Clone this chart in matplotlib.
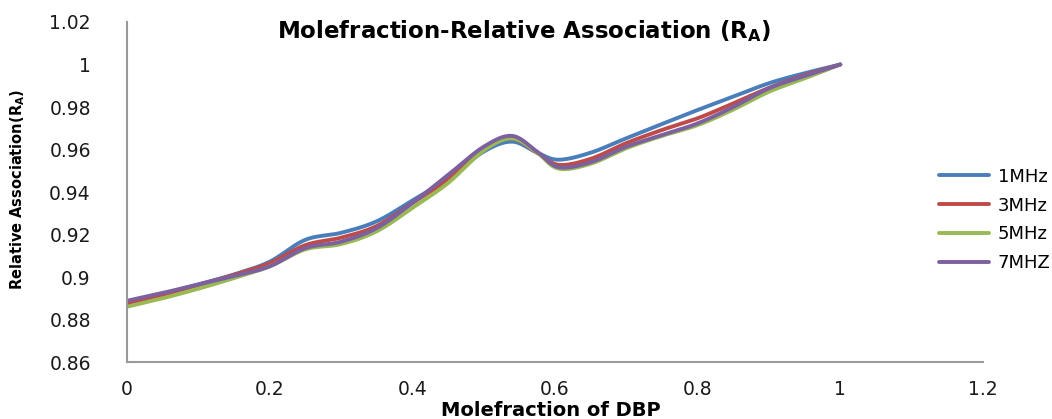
import numpy as np
import matplotlib
matplotlib.use("Agg")
import matplotlib.pyplot as plt

# -----------------------------
# DATA
# -----------------------------
MOLEFRACTION = [0.0, 0.05, 0.10, 0.15, 0.20, 0.25, 0.30, 0.35, 0.40, 0.45,
                0.50, 0.54, 0.575, 0.605, 0.65, 0.70, 0.75, 0.80, 0.85, 0.90,
                0.95, 1.0]

RA_1MHZ = [0.8875, 0.8920, 0.8965, 0.9012, 0.9072, 0.9175, 0.9208, 0.9262,
           0.9360, 0.9462, 0.9590, 0.9637, 0.9585, 0.9552, 0.9585, 0.9653,
           0.9720, 0.9786, 0.9849, 0.9912, 0.9959, 1.0]
RA_3MHZ = [0.8870, 0.8915, 0.8962, 0.9010, 0.9065, 0.9150, 0.9185, 0.9240,
           0.9348, 0.9458, 0.9600, 0.9652, 0.9585, 0.9528, 0.9556, 0.9630,
           0.9692, 0.9747, 0.9817, 0.9890, 0.9950, 1.0]
RA_5MHZ = [0.8860, 0.8900, 0.8945, 0.8995, 0.9050, 0.9130, 0.9155, 0.9215,
           0.9325, 0.9442, 0.9595, 0.9652, 0.9585, 0.9510, 0.9533, 0.9606,
           0.9664, 0.9715, 0.9788, 0.9872, 0.9935, 1.0]
RA_7MHZ = [0.8888, 0.8925, 0.8965, 0.9005, 0.9050, 0.9136, 0.9166, 0.9230,
           0.9348, 0.9480, 0.9613, 0.9664, 0.9590, 0.9517, 0.9540, 0.9613,
           0.9668, 0.9723, 0.9800, 0.9888, 0.9946, 1.0]

SERIES_NAMES = ["1MHz", "3MHz", "5MHz", "7MHZ"]
COLORS = ["#4A7EBB", "#BE4B48", "#98B954", "#7D60A0"]

X_TICKS = [0, 0.2, 0.4, 0.6, 0.8, 1, 1.2]
X_TICK_LABELS = ["0", "0.2", "0.4", "0.6", "0.8", "1", "1.2"]
Y_TICKS = [0.86, 0.88, 0.9, 0.92, 0.94, 0.96, 0.98, 1.0, 1.02]
Y_TICK_LABELS = ["0.86", "0.88", "0.9", "0.92", "0.94", "0.96", "0.98", "1", "1.02"]


# -----------------------------
# SMOOTH LINE (like Excel's smoothed line)
# -----------------------------
def smooth_line(x, y, steps=20):
    x = np.asarray(x, float)
    y = np.asarray(y, float)
    px = np.concatenate([[2 * x[0] - x[1]], x, [2 * x[-1] - x[-2]]])
    py = np.concatenate([[2 * y[0] - y[1]], y, [2 * y[-1] - y[-2]]])
    out_x, out_y = [], []
    t = np.linspace(0, 1, steps, endpoint=False)
    for i in range(1, len(px) - 2):
        p0x, p1x, p2x, p3x = px[i - 1:i + 3]
        p0y, p1y, p2y, p3y = py[i - 1:i + 3]
        t2, t3 = t * t, t * t * t
        out_x.append(0.5 * (2 * p1x + (-p0x + p2x) * t + (2 * p0x - 5 * p1x + 4 * p2x - p3x) * t2
                            + (-p0x + 3 * p1x - 3 * p2x + p3x) * t3))
        out_y.append(0.5 * (2 * p1y + (-p0y + p2y) * t + (2 * p0y - 5 * p1y + 4 * p2y - p3y) * t2
                            + (-p0y + 3 * p1y - 3 * p2y + p3y) * t3))
    out_x.append([x[-1]])
    out_y.append([y[-1]])
    return np.concatenate(out_x), np.concatenate(out_y)


# -----------------------------
# PLOTTING
# -----------------------------
fig = plt.figure(figsize=(10.52, 4.19), dpi=100)
ax = fig.add_axes([0.1207, 0.136, 0.8137, 0.8115])

for values, name, color in zip([RA_1MHZ, RA_3MHZ, RA_5MHZ, RA_7MHZ], SERIES_NAMES, COLORS):
    sx, sy = smooth_line(MOLEFRACTION, values)
    ax.plot(sx, sy, color=color, linewidth=2.8, label=name, solid_capstyle="round")

ax.set_xlim(0, 1.2)
ax.set_ylim(0.86, 1.02)
ax.set_xticks(X_TICKS)
ax.set_xticklabels(X_TICK_LABELS)
ax.set_yticks(Y_TICKS)
ax.set_yticklabels(Y_TICK_LABELS)
ax.tick_params(length=0, labelsize=13.5, colors="#1a1a1a")
ax.tick_params(axis="x", pad=13)
ax.tick_params(axis="y", pad=26)

for side in ["top", "right"]:
    ax.spines[side].set_visible(False)
for side in ["left", "bottom"]:
    ax.spines[side].set_color("#9a9a9a")
    ax.spines[side].set_linewidth(1.5)

fig.text(0.498, 0.926, "Molefraction-Relative Association (R$_\\mathregular{A}$)",
         ha="center", va="center", fontsize=16.5, fontweight="bold")
fig.text(0.524, 0.02, "Molefraction of DBP", ha="center", va="center",
         fontsize=14, fontweight="bold")
fig.text(0.017, 0.547, "Relative Association(R$_\\mathregular{A}$)", ha="center", va="center",
         rotation=90, fontsize=10.5, fontweight="bold")

ax.legend(loc="center left", bbox_to_anchor=(0.877, 0.475), bbox_transform=fig.transFigure,
          frameon=False, fontsize=13, handlelength=2.8, handletextpad=0.45,
          labelspacing=0.6)

fig.savefig("out.png", dpi=100)
